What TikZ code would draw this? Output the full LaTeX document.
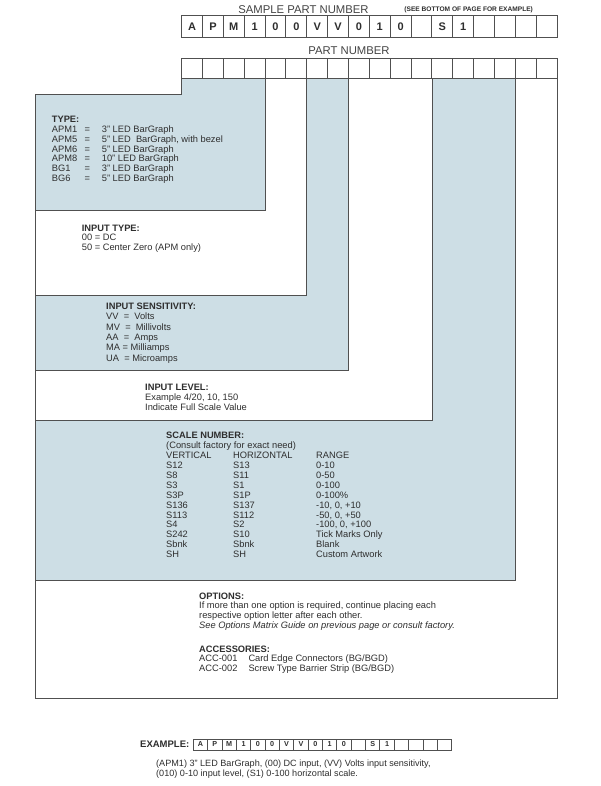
\documentclass[tikz,border=0pt]{standalone}
\usepackage{fontspec}
\setmainfont{Liberation Sans}
\definecolor{pnblue}{HTML}{CDDEE5}
\definecolor{pnline}{HTML}{505050}
\definecolor{pntext}{HTML}{2E2E2E}
\begin{document}
\begin{tikzpicture}[x=1pt,y={(0pt,-1pt)},
  txt/.style={inner sep=0pt, anchor=west, text=pntext, font=\fontsize{9.3}{10}\selectfont, text height=6.7pt, text depth=0pt},
  hdr/.style={txt, font=\fontsize{9.3}{10}\selectfont\bfseries},
  title/.style={inner sep=0pt, text=pntext!90!white, font=\fontsize{11.3}{12}\selectfont},
  bigcell/.style={draw=pnline, line width=1pt, minimum width=20.85pt, minimum height=#1, inner sep=0pt, text=pntext, font=\fontsize{11}{12}\selectfont\bfseries},
  smallcell/.style={draw=pnline, line width=0.8pt, minimum width=14.35pt, minimum height=11pt, inner sep=0pt, text=pntext, font=\fontsize{7.2}{8}\selectfont\bfseries},
  region/.style={draw=pnline, line width=1pt}
]
\useasboundingbox (0,0) rectangle (600,786);
\fill[white] (0,0) rectangle (600,786);

% titles
\node[title] (ttl) at (303.5,9.3) {SAMPLE PART NUMBER};
\node[inner sep=0pt, text=pntext, font=\fontsize{6.6}{7}\selectfont\bfseries] (see) at (468.7,9.3) {(SEE BOTTOM OF PAGE FOR EXAMPLE)};
\node[title] (pnt) at (349,50.3) {PART NUMBER};

% nested regions (largest first)
\path[region, fill=white] (35,95) -- (181.7,95) -- (181.7,78.4) -- (557.2,78.4) -- (557.2,698) -- (35,698) -- cycle;
\path[region, fill=pnblue] (35,95) -- (181.7,95) -- (181.7,78.4) -- (515.5,78.4) -- (515.5,580) -- (35,580) -- cycle;
\path[region, fill=white] (35,95) -- (181.7,95) -- (181.7,78.4) -- (432,78.4) -- (432,420) -- (35,420) -- cycle;
\path[region, fill=pnblue] (35,95) -- (181.7,95) -- (181.7,78.4) -- (348.6,78.4) -- (348.6,370.7) -- (35,370.7) -- cycle;
\path[region, fill=white] (35,95) -- (181.7,95) -- (181.7,78.4) -- (306.9,78.4) -- (306.9,295) -- (35,295) -- cycle;
\path[region, fill=pnblue] (35,95) -- (181.7,95) -- (181.7,78.4) -- (265.1,78.4) -- (265.1,211) -- (35,211) -- cycle;

% sample row and part number row
\foreach \l [count=\i from 0] in {A,P,M,1,0,0,V,V,0,1,0,{},S,1,{},{},{},{}} {
  \node[bigcell=21.6pt] (s\i) at ({181.7+(\i+0.5)*20.85},26.5) {\l};
  \node[bigcell=20.1pt] (p\i) at ({181.7+(\i+0.5)*20.85},68.35) {};
}

% TYPE
\node[hdr] (typeh) at (51.7,119.3) {TYPE:};
\foreach \c/\d [count=\k from 1] in {APM1/3" LED BarGraph, APM5/{5" LED\ \ BarGraph, with bezel}, APM6/5" LED BarGraph, APM8/10" LED BarGraph, BG1/3" LED BarGraph, BG6/5" LED BarGraph} {
  \node[txt] (tc\k) at (51.7,{119.3+9.8*\k}) {\c};
  \node[txt] (te\k) at (84.3,{119.3+9.8*\k}) {=};
  \node[txt] (td\k) at (101.7,{119.3+9.8*\k}) {\d};
}

% INPUT TYPE
\node[hdr] (ith) at (81.7,227.7) {INPUT TYPE:};
\node[txt] (it1) at (81.7,237.6) {00 = DC};
\node[txt] (it2) at (81.7,247.5) {50 = Center Zero (APM only)};

% INPUT SENSITIVITY
\node[hdr] (ish) at (106,306.3) {INPUT SENSITIVITY:};
\node[txt] (is1) at (106,316.6) {VV\ \ =\ \ Volts};
\node[txt] (is2) at (106,326.9) {MV\ \ =\ \ Millivolts};
\node[txt] (is3) at (106,337.2) {AA\ \ =\ \ Amps};
\node[txt] (is4) at (106,347.5) {MA = Milliamps};
\node[txt] (is5) at (106,357.8) {UA\ \ = Microamps};

% INPUT LEVEL
\node[hdr] (ilh) at (145,386.7) {INPUT LEVEL:};
\node[txt] (il1) at (145,396.7) {Example 4/20, 10, 150};
\node[txt] (il2) at (145,406.7) {Indicate Full Scale Value};

% SCALE NUMBER
\node[hdr] (snh) at (166,435.5) {SCALE NUMBER:};
\node[txt] (sn0) at (166,445.4) {(Consult factory for exact need)};
\foreach \a/\b/\c [count=\k from 0] in {VERTICAL/HORIZONTAL/RANGE, S12/S13/0-10, S8/S11/0-50, S3/S1/0-100, S3P/S1P/0-100\%, S136/S137/{-10, 0, +10}, S113/S112/{-50, 0, +50}, S4/S2/{-100, 0, +100}, S242/S10/Tick Marks Only, Sbnk/Sbnk/Blank, SH/SH/Custom Artwork} {
  \node[txt] (sa\k) at (166,{455.3+9.9*\k}) {\a};
  \node[txt] (sb\k) at (233,{455.3+9.9*\k}) {\b};
  \node[txt] (sc\k) at (316,{455.3+9.9*\k}) {\c};
}

% OPTIONS
\node[hdr] (oph) at (199,595.7) {OPTIONS:};
\node[txt] (op1) at (199,605.5) {If more than one option is required, continue placing each};
\node[txt] (op2) at (199,615.3) {respective option letter after each other.};
\node[txt] (op3) at (199,625.1) {\itshape See Options Matrix Guide on previous page or consult factory.};

% ACCESSORIES
\node[hdr] (ach) at (199,649) {ACCESSORIES:};
\node[txt] (ac1a) at (199,658.5) {ACC-001};
\node[txt] (ac1b) at (248.3,658.5) {Card Edge Connectors (BG/BGD)};
\node[txt] (ac2a) at (199,668) {ACC-002};
\node[txt] (ac2b) at (248.3,668) {Screw Type Barrier Strip (BG/BGD)};

% EXAMPLE
\node[inner sep=0pt, anchor=west, text=pntext, font=\fontsize{9.5}{10}\selectfont\bfseries, text height=6.8pt, text depth=0pt] (exh) at (140,744.5) {EXAMPLE:};
\foreach \l [count=\i from 0] in {A,P,M,1,0,0,V,V,0,1,0,{},S,1,{},{},{},{}} {
  \node[smallcell] (e\i) at ({193.3+(\i+0.5)*14.35},744.5) {\l};
}
\node[txt, font=\fontsize{9.1}{10}\selectfont] (ex1) at (156,763.3) {(APM1) 3" LED BarGraph, (00) DC input, (VV) Volts input sensitivity,};
\node[txt, font=\fontsize{9.1}{10}\selectfont] (ex2) at (156,773.3) {(010) 0-10 input level, (S1) 0-100 horizontal scale.};
\end{tikzpicture}
\end{document}
